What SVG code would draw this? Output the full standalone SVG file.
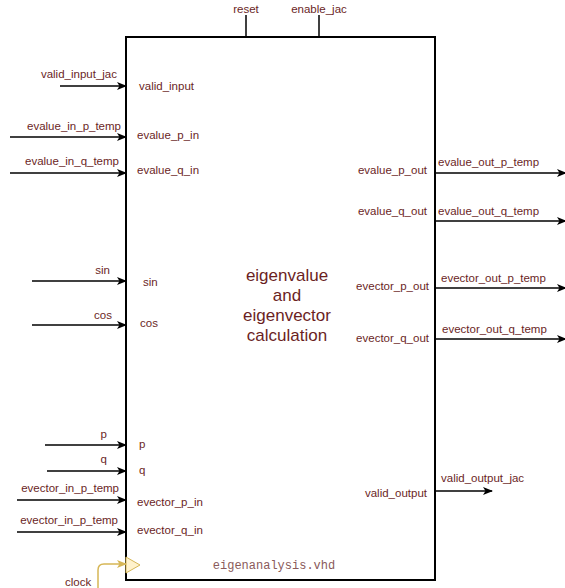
<svg xmlns="http://www.w3.org/2000/svg" width="565" height="588" viewBox="0 0 565 588">
<defs>
<marker id="arr" markerWidth="10" markerHeight="8" refX="9" refY="4" orient="auto" markerUnits="userSpaceOnUse">
<path d="M0,0 L10,4 L0,8 L2.5,4 Z" fill="#000"/>
</marker>
<marker id="arrY" markerWidth="10" markerHeight="8" refX="9" refY="4" orient="auto" markerUnits="userSpaceOnUse">
<path d="M0,0 L10,4 L0,8 L2.5,4 Z" fill="#d6b656"/>
</marker>
</defs>
<style>
.t{font-family:"Liberation Sans",Arial,sans-serif;font-size:11.5px;fill:#6b1f1f}
.r{text-anchor:end}
.m{text-anchor:middle}
.c{stroke:#000;stroke-width:1.5;fill:none}
.ca{stroke:#000;stroke-width:1.5;fill:none;marker-end:url(#arr)}
.title{font-family:"Liberation Sans",Arial,sans-serif;font-size:17px;fill:#6b1f1f;text-anchor:middle}
.vhd{font-family:"Liberation Mono","Courier New",monospace;font-size:12px;fill:#8a5a5a;text-anchor:middle}
</style>
<rect width="565" height="588" fill="#fff"/>
<g id="block">
<rect x="126" y="37" width="309" height="543" fill="#fff" stroke="#000" stroke-width="2"/>
<text class="title" x="287" y="281">eigenvalue</text>
<text class="title" x="287" y="301">and</text>
<text class="title" x="287" y="321">eigenvector</text>
<text class="title" x="287" y="341">calculation</text>
<text class="vhd" x="274" y="569">eigenanalysis.vhd</text>
<polygon id="clock-port" points="126,557 140,565 126,573" fill="#fff2cc" stroke="#d6b656" stroke-width="1"/>
<text class="t" x="139" y="90">valid_input</text>
<text class="t" x="137" y="139">evalue_p_in</text>
<text class="t" x="137" y="174">evalue_q_in</text>
<text class="t" x="143" y="286">sin</text>
<text class="t" x="140" y="327">cos</text>
<text class="t" x="139" y="448">p</text>
<text class="t" x="139" y="474">q</text>
<text class="t" x="137" y="506">evector_p_in</text>
<text class="t" x="137" y="534">evector_q_in</text>
<text class="t r" x="427" y="174">evalue_p_out</text>
<text class="t r" x="427" y="215">evalue_q_out</text>
<text class="t r" x="429" y="290">evector_p_out</text>
<text class="t r" x="429" y="342">evector_q_out</text>
<text class="t r" x="427" y="497">valid_output</text>
</g>
<g id="connectors">
<line class="ca" x1="60" y1="86" x2="126" y2="86"/>
<line class="ca" x1="10" y1="137" x2="126" y2="137"/>
<line class="ca" x1="10" y1="173" x2="126" y2="173"/>
<line class="ca" x1="32" y1="281" x2="126" y2="281"/>
<line class="ca" x1="32" y1="325" x2="126" y2="325"/>
<line class="ca" x1="45" y1="445" x2="126" y2="445"/>
<line class="ca" x1="47" y1="471" x2="126" y2="471"/>
<line class="ca" x1="17" y1="500" x2="126" y2="500"/>
<line class="ca" x1="17" y1="532" x2="126" y2="532"/>
<line class="c" x1="246" y1="15" x2="246" y2="37"/>
<line class="c" x1="319" y1="15" x2="319" y2="37"/>
<line class="ca" x1="435" y1="173" x2="566" y2="173"/>
<line class="ca" x1="435" y1="221" x2="566" y2="221"/>
<line class="ca" x1="435" y1="288" x2="566" y2="288"/>
<line class="ca" x1="435" y1="339" x2="566" y2="339"/>
<line class="ca" x1="435" y1="491" x2="492" y2="491"/>
<path d="M98,590 L98,570 Q98,564 104,564 L126,564" stroke="#d6b656" stroke-width="1.5" fill="none" marker-end="url(#arrY)"/>
</g>
<g id="labels">
<text class="t r" x="117" y="78">valid_input_jac</text>
<text class="t r" x="121" y="130">evalue_in_p_temp</text>
<text class="t r" x="119" y="165">evalue_in_q_temp</text>
<text class="t r" x="110" y="274">sin</text>
<text class="t r" x="112" y="319">cos</text>
<text class="t r" x="107" y="438">p</text>
<text class="t r" x="107" y="463">q</text>
<text class="t r" x="119" y="492">evector_in_p_temp</text>
<text class="t r" x="118" y="524">evector_in_p_temp</text>
<text class="t m" x="246" y="13">reset</text>
<text class="t m" x="319" y="13">enable_jac</text>
<text class="t" x="438" y="166">evalue_out_p_temp</text>
<text class="t" x="438" y="215">evalue_out_q_temp</text>
<text class="t" x="441" y="282">evector_out_p_temp</text>
<text class="t" x="442" y="333">evector_out_q_temp</text>
<text class="t" x="441" y="482">valid_output_jac</text>
<text class="t" x="65" y="586">clock</text>
</g>
</svg>
